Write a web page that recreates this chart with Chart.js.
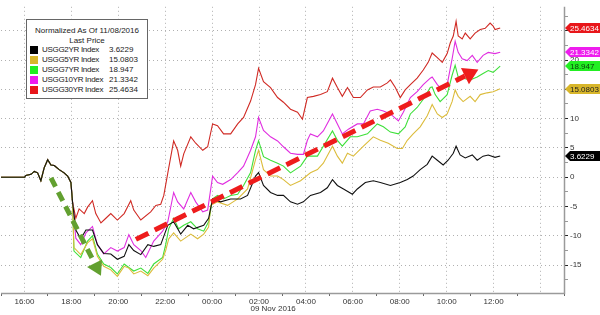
<!DOCTYPE html>
<html>
<head>
<meta charset="utf-8">
<script src="https://cdn.jsdelivr.net/npm/chart.js@4.4.0/dist/chart.umd.min.js"></script>
<style>
  html, body { margin: 0; padding: 0; background: #fff; }
  #wrap { position: relative; width: 600px; height: 315px; overflow: hidden; }
  #legendBox {
    position: absolute; left: 26px; top: 19px; width: 120px; height: 78px;
    border: 1px solid #666; background: #fff;
    font: 8px "Liberation Sans", Arial, sans-serif; color: #222;
  }
  #legendBox .ttl { position: absolute; left: 0; width: 120px; text-align: center; line-height: 10px; }
  #legendBox .row { position: absolute; left: 3px; height: 10px; line-height: 10px; white-space: nowrap; }
  #legendBox .sq { position: absolute; left: 0; top: 1px; width: 8px; height: 8px; }
  #legendBox .nm { position: absolute; left: 12px; letter-spacing: -0.3px; }
  #legendBox .vl { position: absolute; left: 79px; }
</style>
</head>
<body>
<div id="wrap">
  <canvas id="chart" width="600" height="315"></canvas>
  <div id="legendBox"></div>
</div>
<script>
// hours are counted from 08 Nov 2016 15:00 (left edge of the chart)
const startHour = 15;

const names = ['USGG2YR Index', 'USGG5YR Index', 'USGG7YR Index', 'USGG10YR Index', 'USGG30YR Index'];
const lastPrice = [3.6229, 15.0803, 18.947, 21.3342, 25.4634];
const colors = ['#111111', '#dcbc3c', '#3ee03a', '#e02ee0', '#d02a24'];
const tagColors = ['#000000', '#d8b62a', '#22ee22', '#ee1cee', '#e8161a'];
const tagText = ['#ffffff', '#222222', '#0b3b0b', '#ffffff', '#ffffff'];

// all series normalized to 0 and moving together until ~18:00
const opening = [[0, 0], [1.0, 0], [1.06, 0.3], [1.28, 0.5], [1.42, 1.0], [1.56, 0.75], [1.70, -0.6],
  [1.84, 1.6], [1.99, 3.0], [2.13, 2.1], [2.27, 2.0], [2.48, 1.3], [2.69, 0.75], [2.84, 0.2],
  [2.98, -0.9], [3.05, -4.25]];

const usgg2 = [[3.19, -9], [3.40, -10.5], [3.62, -9], [3.90, -9], [4.11, -11.5], [4.38, -13], [4.68, -13.1],
  [4.96, -14], [5.25, -13.5], [5.45, -11.5], [5.66, -12.5], [5.96, -13.2], [6.26, -11.5], [6.51, -11.8],
  [6.81, -11.5], [7.11, -8.2], [7.36, -7.6], [7.66, -9.7], [7.96, -8.2], [8.21, -8.8], [8.64, -8.2],
  [8.85, -7], [9.02, -3.7], [9.36, -4.2], [9.79, -3.7], [10.21, -3.7], [10.51, -3.1], [10.85, 0.2],
  [10.98, 0.8], [11.19, -1.4], [11.49, -2.6], [11.79, -3.1], [12.04, -3.1], [12.34, -4.2], [12.64, -4.6],
  [12.89, -4.2], [13.19, -3.1], [13.62, -2.6], [13.91, -1.8], [14.13, -0.4], [14.34, -1.4], [14.60, -2],
  [14.98, -2.9], [15.19, -2], [15.53, -0.9], [15.87, -0.6], [16.17, -0.9], [16.60, -1.4], [17.02, -0.9],
  [17.32, -0.4], [17.57, 0.2], [17.87, 1.3], [18.17, 2.2], [18.38, 3.6], [18.60, 2.9], [18.85, 2.1],
  [19.06, 2.9], [19.28, 4.1], [19.40, 5.3], [19.57, 3.8], [19.79, 3.3], [20.09, 3.8], [20.30, 2.9],
  [20.55, 3.6], [20.77, 3.8], [21.06, 3.4], [21.28, 3.6229]];

const usgg5 = [[3.11, -12], [3.40, -13.2], [3.69, -11.2], [3.90, -10.5], [4.11, -13.5], [4.38, -15.2],
  [4.68, -15.8], [4.96, -16.9], [5.25, -15.2], [5.45, -15.5], [5.66, -16.5], [5.96, -16], [6.26, -16.8],
  [6.51, -15.5], [6.89, -14], [7.02, -12.5], [7.15, -10.5], [7.36, -9.5], [7.66, -10.9], [8.09, -9.7],
  [8.38, -10.5], [8.64, -9.7], [8.85, -8.5], [8.94, -4.8], [9.23, -4.2], [9.66, -4.8], [10.09, -3.7],
  [10.51, -2], [10.85, 3], [10.98, 4.6], [11.19, 1.3], [11.49, 0.2], [11.79, 0.2], [12.04, -0.4],
  [12.34, -1.4], [12.77, -0.6], [13.19, 0.75], [13.49, 1.3], [13.74, 2.4], [14.13, 5.3], [14.34, 3.6],
  [14.55, 2.4], [14.77, 4.1], [15.02, 3.6], [15.45, 5.3], [15.87, 6.9], [16.17, 6.3], [16.51, 5.8],
  [16.89, 4.9], [17.11, 4.9], [17.32, 6.3], [17.57, 7.4], [17.87, 8.6], [18.17, 10.5], [18.38, 12.4],
  [18.60, 10.8], [18.81, 10.2], [19.02, 10.8], [19.23, 12.9], [19.36, 14.9], [19.49, 13.8], [19.70, 12.9],
  [20.00, 13.8], [20.21, 12.9], [20.43, 14.1], [20.72, 14.4], [20.98, 14.6], [21.28, 15.0803]];

const usgg7 = [[3.11, -12.6], [3.40, -13.7], [3.69, -10.9], [3.90, -10], [4.11, -13.1], [4.38, -14.8],
  [4.68, -15.4], [4.96, -16.5], [5.25, -14.8], [5.45, -15.4], [5.66, -16], [5.96, -15.5], [6.26, -16.4],
  [6.51, -14.8], [6.89, -13.7], [7.02, -11.5], [7.15, -8.8], [7.36, -7], [7.57, -8.8], [7.79, -8.2],
  [8.09, -7.6], [8.38, -8.8], [8.64, -9.2], [8.85, -7.6], [9.02, -3.7], [9.23, -3.1], [9.49, -3.7],
  [9.79, -3.1], [10.09, -2.9], [10.34, -1.4], [10.64, 0.8], [10.85, 4.6], [10.98, 6.2], [11.19, 3.5],
  [11.49, 2.9], [11.79, 2.4], [12.04, 1.9], [12.34, 0.75], [12.77, 1.9], [13.06, 3.6], [13.49, 3.6],
  [13.74, 5.3], [14.13, 7.9], [14.34, 6.3], [14.55, 5.3], [14.89, 6.9], [15.19, 6.9], [15.62, 7.4],
  [16.04, 9.1], [16.30, 8.6], [16.60, 7.7], [16.94, 7.4], [17.23, 8.6], [17.45, 10.8], [17.74, 11.9],
  [18.00, 13.3], [18.30, 15.3], [18.38, 15.4], [18.51, 14.1], [18.72, 12.9], [19.02, 14.1], [19.23, 17.4],
  [19.36, 19.1], [19.49, 17.1], [19.70, 16.9], [20.00, 16.6], [20.30, 17.1], [20.55, 17.7], [20.77, 18.2],
  [20.98, 17.9], [21.28, 18.947]];

const usgg10 = [[3.19, -10.4], [3.40, -11.5], [3.62, -9.5], [3.90, -8.4], [4.11, -11.5], [4.38, -13.1],
  [4.68, -12], [4.96, -12.6], [5.25, -12], [5.45, -9.8], [5.66, -11.5], [5.96, -12.5], [6.17, -13.7],
  [6.51, -10.9], [6.89, -9.2], [7.11, -7.6], [7.36, -2.6], [7.53, -4.2], [7.79, -5.4], [8.09, -2.6],
  [8.30, -4.2], [8.60, -5.9], [8.81, -5.6], [9.02, 0.2], [9.23, -0.9], [9.45, -1.2], [9.79, -0.4],
  [10.09, 0.8], [10.34, 1.9], [10.64, 4.6], [10.85, 6.9], [10.98, 10.2], [11.19, 8], [11.49, 6.9],
  [11.79, 6.2], [12.04, 5.2], [12.34, 4.1], [12.64, 3.9], [12.89, 3.9], [13.06, 6.3], [13.19, 7.4],
  [13.49, 6.9], [13.74, 7.9], [14.13, 10.8], [14.34, 9.1], [14.55, 7.4], [14.81, 8.2], [15.19, 9.1],
  [15.45, 9.1], [15.74, 11.3], [16.04, 11.6], [16.30, 11.3], [16.60, 10.8], [16.94, 9.6], [17.15, 11.1],
  [17.45, 13.6], [17.74, 14.6], [18.00, 15.8], [18.30, 16.9], [18.38, 17.1], [18.60, 15.8], [18.72, 15.3],
  [19.02, 15.8], [19.23, 20.2], [19.36, 23.2], [19.49, 21.3], [19.66, 20.2], [19.87, 19.9], [20.09, 20.8],
  [20.30, 19.6], [20.55, 20.8], [20.77, 21.3], [21.06, 21.1], [21.28, 21.3342]];

const usgg30 = [[3.19, -7], [3.33, -5.4], [3.55, -6.2], [3.69, -5.1], [3.90, -4], [4.04, -6.2], [4.26, -7.8],
  [4.47, -7], [4.68, -6.2], [4.96, -7.3], [5.25, -6.2], [5.53, -4], [5.66, -5.6], [5.96, -7.3],
  [6.38, -5.9], [6.60, -4.8], [6.81, -4.6], [6.94, -3.1], [7.11, 0.7], [7.36, 6.2], [7.53, 4.6],
  [7.66, 1.9], [7.79, 4], [8.09, 6.9], [8.30, 5.8], [8.60, 4.6], [8.81, 5.2], [9.02, 9.1], [9.23, 8.8],
  [9.49, 7.4], [9.79, 7.4], [10.09, 9.1], [10.34, 10.2], [10.64, 13], [10.85, 15.8], [10.98, 18.6],
  [11.19, 16.3], [11.49, 15.3], [11.79, 13.6], [12.04, 12.8], [12.34, 11.6], [12.64, 11.1], [12.85, 9.9],
  [13.06, 13.6], [13.32, 13.8], [13.62, 14.1], [13.91, 14.6], [14.13, 16.9], [14.34, 15.3], [14.55, 13.8],
  [14.77, 15.3], [15.02, 13.6], [15.32, 13.6], [15.62, 14.9], [15.87, 15.4], [16.17, 15.4], [16.47, 16.1],
  [16.60, 16.6], [16.81, 15.3], [17.02, 13.6], [17.23, 14.9], [17.45, 15.8], [17.74, 16.9], [18.00, 18.3],
  [18.21, 19.6], [18.38, 21.2], [18.60, 20.4], [18.81, 19.6], [19.02, 21.1], [19.15, 22.9], [19.28, 24.1],
  [19.40, 26.6], [19.49, 24.1], [19.66, 23.6], [19.79, 24.6], [20.00, 23.6], [20.21, 24.6], [20.43, 25.2],
  [20.64, 25.4], [20.85, 26.3], [20.98, 25.8], [21.06, 25.2], [21.28, 25.4634]];

// the two hand-drawn dashed arrows, in [hour, value]
const greenArrow = [[2.13, -0.1], [4.26, -16.8]];
const redArrow = [[5.75, -10.6], [20.35, 18.4]];

const series = [usgg2, usgg5, usgg7, usgg10, usgg30];

// legend box
const box = document.getElementById('legendBox');
let html = '<div class="ttl" style="top:6px">Normalized As Of 11/08/2016</div>' +
           '<div class="ttl" style="top:15.5px">Last Price</div>';
names.forEach((n, i) => {
  const top = 25 + i * 10.1;
  html += '<div class="row" style="top:' + top + 'px">' +
          '<span class="sq" style="background:' + tagColors[i] + '"></span>' +
          '<span class="nm">' + n + '</span><span class="vl">' + lastPrice[i] + '</span></div>';
});
box.innerHTML = html;

function hourLabel(h) {
  const hh = (startHour + h) % 24;
  return (hh < 10 ? '0' : '') + hh + ':00';
}

function drawArrow(ctx, p1, p2, color, width, dash, head) {
  const ang = Math.atan2(p2.y - p1.y, p2.x - p1.x);
  const bx = p2.x - head * Math.cos(ang), by = p2.y - head * Math.sin(ang);
  const w = head * 0.6;
  ctx.save();
  ctx.strokeStyle = color;
  ctx.lineWidth = width;
  ctx.setLineDash(dash);
  ctx.beginPath();
  ctx.moveTo(p1.x, p1.y);
  ctx.lineTo(bx, by);
  ctx.stroke();
  ctx.setLineDash([]);
  ctx.fillStyle = color;
  ctx.beginPath();
  ctx.moveTo(p2.x, p2.y);
  ctx.lineTo(bx + w * Math.sin(ang), by - w * Math.cos(ang));
  ctx.lineTo(bx - w * Math.sin(ang), by + w * Math.cos(ang));
  ctx.closePath();
  ctx.fill();
  ctx.restore();
}

const overlay = {
  id: 'overlay',
  afterDatasetsDraw(chart) {
    const ctx = chart.ctx, xs = chart.scales.x, ys = chart.scales.y;
    const pt = p => ({ x: xs.getPixelForValue(p[0]), y: ys.getPixelForValue(p[1]) });
    drawArrow(ctx, pt(greenArrow[0]), pt(greenArrow[1]), '#62a030', 5, [10, 6], 14);
    drawArrow(ctx, pt(redArrow[0]), pt(redArrow[1]), '#ee1c1c', 5, [14, 7], 15);
  },
  afterDraw(chart) {
    const ctx = chart.ctx, xs = chart.scales.x, ys = chart.scales.y;
    const a = chart.chartArea;
    const x0 = a.right;
    ctx.save();
    // solid axis lines (bottom and right)
    ctx.strokeStyle = '#9a9a9a';
    ctx.lineWidth = 1.5;
    ctx.beginPath();
    ctx.moveTo(a.left, a.bottom + 0.5);
    ctx.lineTo(a.right + 0.5, a.bottom + 0.5);
    ctx.lineTo(a.right + 0.5, a.top);
    ctx.stroke();
    // date under the time axis
    ctx.font = '8px "Liberation Sans", Arial, sans-serif';
    ctx.fillStyle = '#333';
    ctx.textAlign = 'center';
    ctx.textBaseline = 'middle';
    ctx.fillText('09 Nov 2016', xs.getPixelForValue(11.6), 309);
    // last price tags on the right axis
    ctx.textAlign = 'left';
    lastPrice.forEach((v, i) => {
      const y = Math.round(ys.getPixelForValue(v));
      ctx.fillStyle = tagColors[i];
      ctx.beginPath();
      ctx.moveTo(x0 + 1, y);
      ctx.lineTo(x0 + 6, y - 5);
      ctx.lineTo(600, y - 5);
      ctx.lineTo(600, y + 5);
      ctx.lineTo(x0 + 6, y + 5);
      ctx.closePath();
      ctx.fill();
      ctx.fillStyle = tagText[i];
      ctx.fillText(String(v), x0 + 6, y + 0.5, 31);
    });
    ctx.restore();
  }
};

new Chart(document.getElementById('chart'), {
  type: 'line',
  data: {
    datasets: series.map((s, i) => ({
      label: names[i],
      data: opening.concat(s).map(p => ({ x: p[0], y: p[1] })),
      borderColor: colors[i],
      borderWidth: 1.1,
      pointRadius: 0,
      tension: 0
    }))
  },
  options: {
    responsive: false,
    animation: false,
    devicePixelRatio: 1,
    layout: { padding: 0 },
    plugins: { legend: { display: false }, tooltip: { enabled: false } },
    scales: {
      x: {
        type: 'linear',
        min: 0,
        max: 24,
        afterBuildTicks: s => { s.ticks = Array.from({ length: 25 }, (_, i) => ({ value: i })); },
        afterFit: s => { s.height = 22; },
        ticks: {
          autoSkip: false,
          maxRotation: 0,
          padding: 1,
          color: '#333',
          font: { family: '"Liberation Sans", Arial, sans-serif', size: 8 },
          callback: v => (v % 2 === 1 && v < 22) ? hourLabel(v) : ''
        },
        grid: {
          color: c => (c.tick && c.tick.value % 2 === 1) ? '#b0b0b0' : 'rgba(0,0,0,0)',
          tickColor: c => (c.tick && c.tick.value % 2 === 0) ? '#666' : 'rgba(0,0,0,0)',
          tickLength: 3
        },
        border: { display: false, dash: [1, 3] }
      },
      y: {
        position: 'right',
        min: -19.75,
        max: 29.08,
        afterBuildTicks: s => {
          const t = [];
          for (let v = -17.5; v <= 27.5; v += 2.5) t.push({ value: v });
          s.ticks = t;
        },
        afterFit: s => { s.width = 36; },
        ticks: {
          autoSkip: false,
          padding: 2,
          color: '#333',
          font: { family: '"Liberation Sans", Arial, sans-serif', size: 8 },
          callback: v => (v % 5 === 0) ? String(v) : ''
        },
        grid: {
          color: c => (c.tick && c.tick.value % 5 === 0) ? '#b0b0b0' : 'rgba(0,0,0,0)',
          tickColor: c => (c.tick && c.tick.value % 5 === 0) ? '#222' : '#999',
          tickLength: 4
        },
        border: { display: false, dash: [1, 3] }
      }
    }
  },
  plugins: [overlay]
});
</script>
</body>
</html>
